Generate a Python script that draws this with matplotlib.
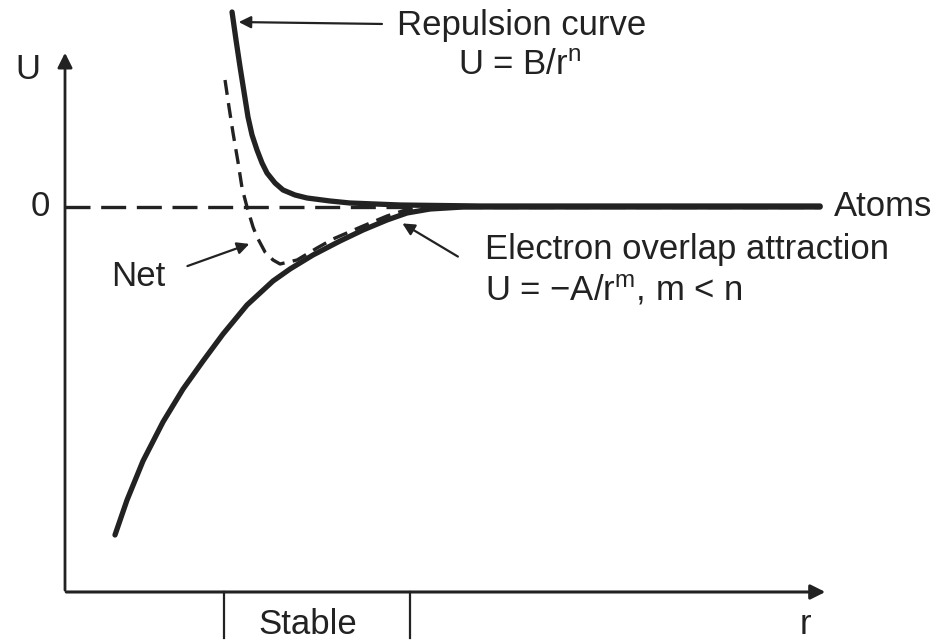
import matplotlib
matplotlib.use("Agg")
from matplotlib import pyplot as plt

plt.rcParams['font.family'] = ['Liberation Sans', 'DejaVu Sans']
plt.rcParams['mathtext.fontset'] = 'custom'
plt.rcParams['mathtext.rm'] = 'Liberation Sans'
plt.rcParams['mathtext.default'] = 'regular'

ink = '#222222'
fs = 25

# curves (r, U)
rep_r = [2.189, 2.241, 2.294, 2.346, 2.398, 2.451, 2.516, 2.582, 2.647, 2.752,
         2.857, 3.014, 3.172, 3.473, 3.735, 4.391, 5.439, 9.895]
rep_u = [3.90, 3.34, 2.80, 2.30, 1.80, 1.44, 1.14, 0.88, 0.68, 0.48,
         0.34, 0.24, 0.18, 0.12, 0.08, 0.04, 0.02, 0.02]

att_r = [0.655, 0.813, 1.022, 1.284, 1.547, 1.809, 2.071, 2.385, 2.726, 2.949,
         3.250, 3.604, 3.906, 4.220, 4.482, 4.784, 5.216, 9.895]
att_u = [-6.56, -5.86, -5.08, -4.30, -3.64, -3.08, -2.54, -1.96, -1.48, -1.24,
         -0.96, -0.68, -0.46, -0.26, -0.12, -0.04, 0.00, 0.00]

net_r = [2.097, 2.149, 2.202, 2.267, 2.320, 2.385, 2.464, 2.516, 2.621, 2.726,
         2.818, 3.041, 3.303, 3.512, 3.906, 4.220, 4.482, 4.784, 9.895]
net_u = [2.54, 2.00, 1.48, 0.90, 0.38, 0.00, -0.40, -0.60, -0.90, -1.06,
         -1.14, -1.06, -0.82, -0.64, -0.38, -0.18, -0.05, 0.00, 0.02]

zero_end = 9.9
stable = [2.08, 4.52]
r_max = 10.0
u_top = 3.14
u_min = -7.7

fig = plt.figure(figsize=(9.38, 6.42), dpi=100)
ax = fig.add_axes([0.0693, 0.0779, 0.9307, 0.9221])
ax.set_xlim(0, 11.44)
ax.set_ylim(u_min, 4.14)
ax.axis('off')

# axes with arrows
ax.annotate('', xy=(0, u_top), xytext=(0, u_min - 0.02),
            arrowprops=dict(arrowstyle='-|>', color=ink, lw=2, mutation_scale=22), annotation_clip=False)
ax.annotate('', xy=(r_max, u_min), xytext=(-0.02, u_min),
            arrowprops=dict(arrowstyle='-|>', color=ink, lw=2.2, mutation_scale=22), annotation_clip=False)

# zero line
ax.plot([0, zero_end], [0, 0], color=ink, lw=2.4, dashes=(7.5, 3.2), dash_capstyle='butt')

# curves
ax.plot(att_r, att_u, color=ink, lw=3.8, solid_capstyle='round', solid_joinstyle='round')
ax.plot(rep_r, rep_u, color=ink, lw=3.8, solid_capstyle='round', solid_joinstyle='round')
ax.plot(net_r, net_u, color=ink, lw=2.4, dashes=(4.5, 2.5))

# stable region ticks
for s in stable:
    ax.plot([s, s], [u_min, -8.62], color=ink, lw=1.6, clip_on=False)
ax.text(sum(stable) / 2 - 0.12, -8.36, 'Stable', fontsize=fs, color=ink, ha='center', va='center')
ax.text(9.70, -8.36, 'r', fontsize=fs, color=ink, ha='center', va='center')

ax.text(-0.485, 2.74, 'U', fontsize=fs, color=ink, ha='center', va='center')
ax.text(-0.33, 0, '0', fontsize=fs, color=ink, ha='center', va='center')

# labels with pointers
arr = dict(arrowstyle='-|>', color=ink, lw=1.6, mutation_scale=18)
ax.annotate('', xy=(2.24, 3.70), xytext=(4.19, 3.66), arrowprops=arr)
ax.text(4.35, 3.62, 'Repulsion curve', fontsize=fs, color=ink, ha='left', va='center')
ax.text(5.96, 2.82, 'U = B/r$^n$', fontsize=fs, color=ink, ha='center', va='center')

ax.annotate('', xy=(2.45, -0.72), xytext=(1.57, -1.20), arrowprops=arr)
ax.text(0.96, -1.40, 'Net', fontsize=fs, color=ink, ha='center', va='center')

ax.annotate('', xy=(4.39, -0.30), xytext=(5.18, -1.02), arrowprops=arr)
ax.text(5.50, -0.86, 'Electron overlap attraction', fontsize=fs, color=ink, ha='left', va='center')
ax.text(5.50, -1.66, 'U = \u2212A/r$^m$, m < n', fontsize=fs, color=ink, ha='left', va='center')

ax.text(10.08, 0, 'Atoms', fontsize=fs, color=ink, ha='left', va='center')

plt.savefig('out.png', dpi=100)
